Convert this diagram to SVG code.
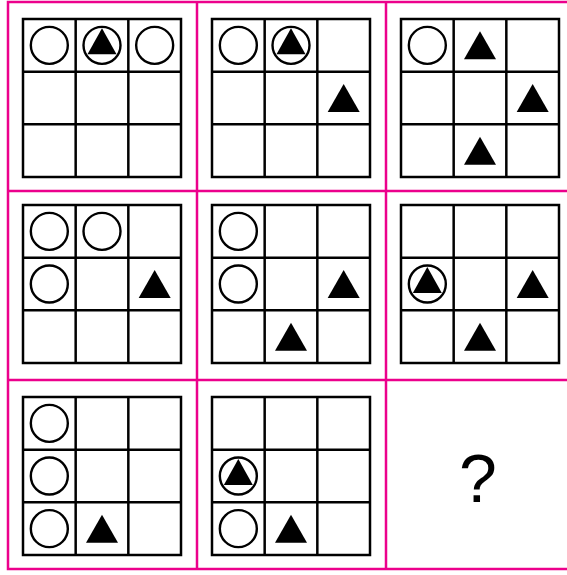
<svg xmlns="http://www.w3.org/2000/svg" xmlns:xlink="http://www.w3.org/1999/xlink" width="567" height="575" viewBox="0 0 567 575">
<style>
.frame{fill:none;stroke:#ec008c;stroke-width:2.5}
.grid{fill:#fff;stroke:#000;stroke-width:2.5}
.circ{fill:#fff;stroke:#000;stroke-width:2.4}
.tri{fill:#000}
.q{font-family:"Liberation Sans",Arial,sans-serif;font-size:68px;fill:#000}
</style>
<defs>
<g id="g3">
<rect class="grid" x="0" y="0" width="158" height="158"/>
<path class="grid" d="M52.67 0V158M105.33 0V158M0 52.67H158M0 105.33H158"/>
</g>
<circle id="c" class="circ" cx="0" cy="0" r="18.5"/>
<polygon id="t" class="tri" points="0,-14 -16,14 16,14"/>
<g id="ct">
<circle class="circ" cx="0" cy="0" r="18.5"/>
<polygon class="tri" points="0,-17 -14.5,9 14.5,9"/>
</g>
</defs>
<rect width="567" height="575" fill="#fff"/>
<g id="frame">
<rect class="frame" x="8" y="2" width="567" height="567"/>
<path class="frame" d="M197 2V569M386 2V569M8 191H567M8 380H567"/>
</g>
<g id="p1" transform="translate(23,19)">
<use xlink:href="#g3"/>
<use xlink:href="#c" x="26.33" y="26.33"/>
<use xlink:href="#ct" x="79" y="26.33"/>
<use xlink:href="#c" x="131.67" y="26.33"/>
</g>
<g id="p2" transform="translate(212,19)">
<use xlink:href="#g3"/>
<use xlink:href="#c" x="26.33" y="26.33"/>
<use xlink:href="#ct" x="79" y="26.33"/>
<use xlink:href="#t" x="131.67" y="79"/>
</g>
<g id="p3" transform="translate(401,19)">
<use xlink:href="#g3"/>
<use xlink:href="#c" x="26.33" y="26.33"/>
<use xlink:href="#t" x="79" y="26.33"/>
<use xlink:href="#t" x="131.67" y="79"/>
<use xlink:href="#t" x="79" y="131.67"/>
</g>
<g id="p4" transform="translate(23,205)">
<use xlink:href="#g3"/>
<use xlink:href="#c" x="26.33" y="26.33"/>
<use xlink:href="#c" x="79" y="26.33"/>
<use xlink:href="#c" x="26.33" y="79"/>
<use xlink:href="#t" x="131.67" y="79"/>
</g>
<g id="p5" transform="translate(212,205)">
<use xlink:href="#g3"/>
<use xlink:href="#c" x="26.33" y="26.33"/>
<use xlink:href="#c" x="26.33" y="79"/>
<use xlink:href="#t" x="131.67" y="79"/>
<use xlink:href="#t" x="79" y="131.67"/>
</g>
<g id="p6" transform="translate(401,205)">
<use xlink:href="#g3"/>
<use xlink:href="#ct" x="26.33" y="79"/>
<use xlink:href="#t" x="131.67" y="79"/>
<use xlink:href="#t" x="79" y="131.67"/>
</g>
<g id="p7" transform="translate(23,397)">
<use xlink:href="#g3"/>
<use xlink:href="#c" x="26.33" y="26.33"/>
<use xlink:href="#c" x="26.33" y="79"/>
<use xlink:href="#c" x="26.33" y="131.67"/>
<use xlink:href="#t" x="79" y="131.67"/>
</g>
<g id="p8" transform="translate(212,397)">
<use xlink:href="#g3"/>
<use xlink:href="#ct" x="26.33" y="79"/>
<use xlink:href="#c" x="26.33" y="131.67"/>
<use xlink:href="#t" x="79" y="131.67"/>
</g>
<g id="p9">
<text class="q" x="478" y="502" text-anchor="middle">?</text>
</g>
</svg>
